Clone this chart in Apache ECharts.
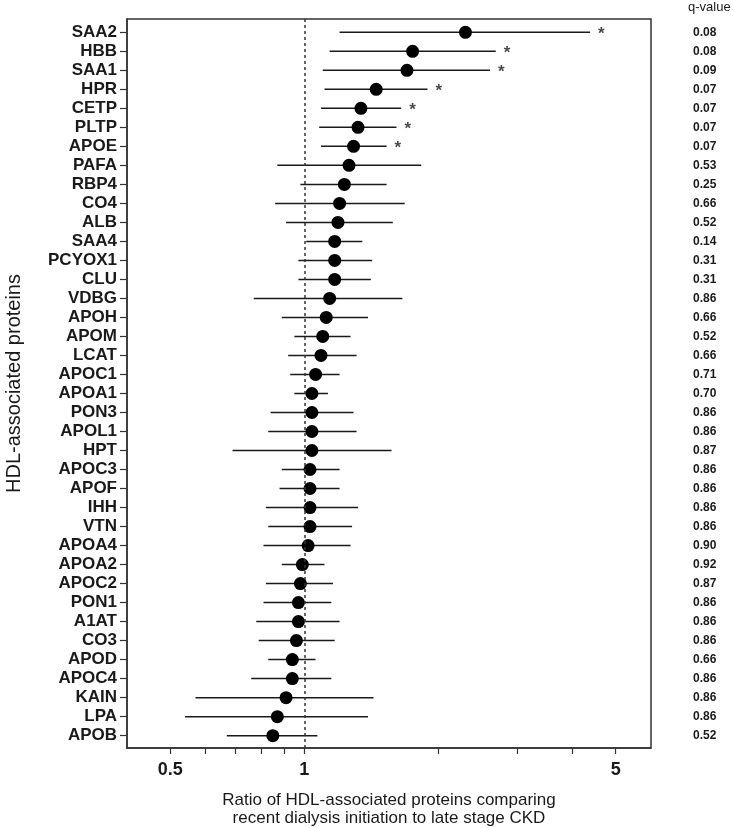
<!DOCTYPE html>
<html>
<head>
<meta charset="utf-8">
<script src="https://cdn.jsdelivr.net/npm/echarts@6.0.0/dist/echarts.min.js"></script>
<style>
    html, body { margin: 0; padding: 0; background: #fff; }
    #forestChart { width: 733px; height: 828px; }
</style>
</head>
<body>
<div id="forestChart"></div>
<script>
// proteins, top to bottom
const proteins = ['SAA2', 'HBB', 'SAA1', 'HPR', 'CETP', 'PLTP', 'APOE', 'PAFA', 'RBP4', 'CO4',
    'ALB', 'SAA4', 'PCYOX1', 'CLU', 'VDBG', 'APOH', 'APOM', 'LCAT', 'APOC1', 'APOA1',
    'PON3', 'APOL1', 'HPT', 'APOC3', 'APOF', 'IHH', 'VTN', 'APOA4', 'APOA2', 'APOC2',
    'PON1', 'A1AT', 'CO3', 'APOD', 'APOC4', 'KAIN', 'LPA', 'APOB'];
const ratio = [2.30, 1.75, 1.70, 1.45, 1.34, 1.32, 1.29, 1.26, 1.23, 1.20,
    1.19, 1.17, 1.17, 1.17, 1.14, 1.12, 1.10, 1.09, 1.06, 1.04,
    1.04, 1.04, 1.04, 1.03, 1.03, 1.03, 1.03, 1.02, 0.99, 0.98,
    0.97, 0.97, 0.96, 0.94, 0.94, 0.91, 0.87, 0.85];
const lower = [1.20, 1.14, 1.10, 1.11, 1.09, 1.08, 1.09, 0.87, 0.98, 0.86,
    0.91, 1.01, 0.97, 0.97, 0.77, 0.89, 0.95, 0.92, 0.93, 0.95,
    0.84, 0.83, 0.69, 0.89, 0.88, 0.82, 0.83, 0.81, 0.89, 0.82,
    0.81, 0.78, 0.79, 0.83, 0.76, 0.57, 0.54, 0.67];
const upper = [4.38, 2.69, 2.61, 1.89, 1.65, 1.61, 1.53, 1.83, 1.53, 1.68,
    1.58, 1.35, 1.42, 1.41, 1.66, 1.39, 1.27, 1.31, 1.20, 1.13,
    1.29, 1.31, 1.57, 1.20, 1.20, 1.32, 1.28, 1.27, 1.11, 1.16,
    1.15, 1.20, 1.17, 1.06, 1.15, 1.43, 1.39, 1.07];
const qValues = ['0.08', '0.08', '0.09', '0.07', '0.07', '0.07', '0.07', '0.53', '0.25', '0.66',
    '0.52', '0.14', '0.31', '0.31', '0.86', '0.66', '0.52', '0.66', '0.71', '0.70',
    '0.86', '0.86', '0.87', '0.86', '0.86', '0.86', '0.86', '0.90', '0.92', '0.87',
    '0.86', '0.86', '0.86', '0.66', '0.86', '0.86', '0.86', '0.52'];
const significant = ['SAA2', 'HBB', 'SAA1', 'HPR', 'CETP', 'PLTP', 'APOE'];

// x axis ticks (log scale)
const xTicks = [0.5, 0.6, 0.7, 0.8, 0.9, 1, 2, 3, 4, 5];
const xLabels = [0.5, 1, 5];

const font = 'Liberation Sans, Arial, sans-serif';
const ink = '#1a1a1a';
const rows = proteins.map((p, i) => i);

let chartDom = document.getElementById('forestChart');
let myChart = echarts.init(chartDom);
let option;

option = {
    backgroundColor: '#fff',
    animation: false,
    title: {
        text: 'q-value',
        left: 688,
        top: 1,
        padding: 0,
        textStyle: {
            color: ink,
            fontSize: 13,
            fontWeight: 'normal',
            fontFamily: font
        }
    },
    grid: {
        left: 127,
        right: 82,
        top: 19,
        bottom: 80,
        outerBoundsMode: 'none',
        containLabel: false,
        show: true,
        borderColor: '#333',
        borderWidth: 1.5
    },
    xAxis: {
        type: 'log',
        logBase: 10,
        min: 0.4,
        max: 6,
        name: 'Ratio of HDL-associated proteins comparing\nrecent dialysis initiation to late stage CKD',
        nameLocation: 'middle',
        nameGap: 43,
        nameTextStyle: {
            color: ink,
            fontSize: 17,
            lineHeight: 18,
            fontFamily: font
        },
        axisLine: { show: true, onZero: false, lineStyle: { color: '#333', width: 1.5 } },
        axisTick: {
            show: true,
            length: 6,
            customValues: xTicks,
            lineStyle: { color: '#333', width: 1.2 }
        },
        axisLabel: {
            customValues: xLabels,
            margin: 13,
            color: ink,
            fontSize: 18,
            fontWeight: 'bold',
            fontFamily: font,
            formatter: v => String(Number(Number(v).toPrecision(6)))
        },
        splitLine: { show: false },
        minorTick: { show: false }
    },
    yAxis: [
        {
            type: 'value',
            inverse: true,
            min: -0.7,
            max: 37.65,
            name: 'HDL-associated proteins',
            nameLocation: 'middle',
            nameRotate: 90,
            nameGap: 103,
            nameTextStyle: {
                color: ink,
                fontSize: 20,
                fontFamily: font
            },
            axisLine: { show: true, onZero: false, lineStyle: { color: '#333', width: 1.5 } },
            axisTick: {
                show: true,
                length: 7,
                customValues: rows,
                lineStyle: { color: '#333', width: 1.2 }
            },
            axisLabel: {
                customValues: rows,
                margin: 10,
                color: ink,
                fontSize: 17,
                fontWeight: 'bold',
                fontFamily: font,
                formatter: v => proteins[Math.round(v)]
            },
            splitLine: { show: false }
        },
        {
            type: 'value',
            position: 'right',
            inverse: true,
            min: -0.7,
            max: 37.65,
            axisLine: { show: false },
            axisTick: { show: false },
            axisLabel: {
                customValues: rows,
                margin: 42,
                color: ink,
                fontSize: 12,
                fontWeight: 'bold',
                fontFamily: font,
                formatter: v => qValues[Math.round(v)]
            },
            splitLine: { show: false }
        }
    ],
    series: [
        {
            // confidence intervals
            type: 'custom',
            data: rows.map(i => [lower[i], upper[i], i]),
            encode: { x: [0, 1], y: 2 },
            renderItem: (params, api) => {
                const a = api.coord([api.value(0), api.value(2)]);
                const b = api.coord([api.value(1), api.value(2)]);
                return {
                    type: 'line',
                    shape: { x1: a[0], y1: a[1], x2: b[0], y2: b[1] },
                    style: { stroke: ink, lineWidth: 1.5 }
                };
            },
            silent: true
        },
        {
            type: 'scatter',
            data: rows.map(i => [ratio[i], i]),
            symbol: 'circle',
            symbolSize: 13,
            itemStyle: { color: '#000', opacity: 1 },
            markLine: {
                silent: true,
                symbol: 'none',
                label: { show: false },
                lineStyle: { color: '#333', type: [3, 3], width: 1.5 },
                data: [{ xAxis: 1 }]
            }
        },
        {
            // significance stars
            type: 'scatter',
            data: rows.filter(i => significant.includes(proteins[i])).map(i => [upper[i], i]),
            symbolSize: 0,
            label: {
                show: true,
                formatter: '*',
                position: 'right',
                distance: 8,
                offset: [0, 2],
                color: ink,
                fontSize: 17,
                fontWeight: 'bold',
                fontFamily: font
            },
            silent: true
        }
    ]
};

option && myChart.setOption(option);
</script>
</body>
</html>
